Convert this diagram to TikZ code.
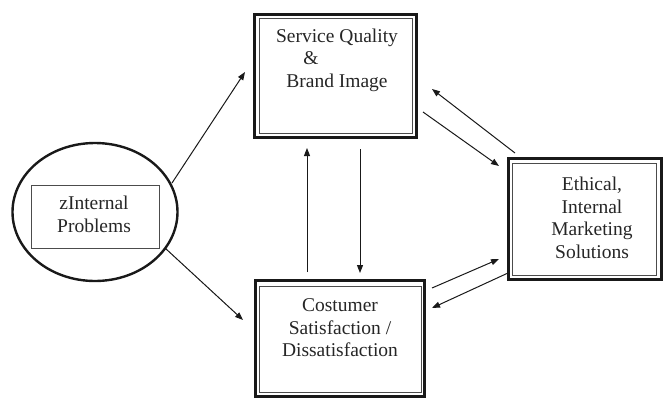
\documentclass[tikz,border=0pt]{standalone}
\usepackage{fontspec}
\setmainfont{Liberation Serif}
\usetikzlibrary{arrows.meta,calc,shapes.geometric}
\begin{document}
\begin{tikzpicture}[x=1pt,y=-1pt,
  outerbox/.style={draw=black!90,line width=3pt,inner sep=0pt,rectangle},
  innerline/.style={draw=black!70,line width=1pt},
  ell/.style={draw=black!90,line width=2.4pt,ellipse,inner sep=0pt},
  txt/.style={font=\fontsize{19.5}{22.5}\selectfont,align=center,inner sep=0pt,text=black!85},
  conn/.style={line width=1pt,draw=black!90,-{Triangle[length=8pt,width=6pt]}}
]
\useasboundingbox (0,0) rectangle (665,397);
% boxes
\node[outerbox,minimum width=162pt,minimum height=123pt] (sq) at (335,75.5) {};
\draw[innerline] ($(sq.north west)+(6.5,6)$) rectangle ($(sq.south east)+(-5.5,-5)$);
\node[outerbox,minimum width=153pt,minimum height=121pt] (em) at (584.5,218.5) {};
\draw[innerline] ($(em.north west)+(6,6.5)$) rectangle ($(em.south east)+(-6,-5)$);
\node[outerbox,minimum width=169pt,minimum height=116pt] (cs) at (339.5,338) {};
\draw[innerline] ($(cs.north west)+(6,7.5)$) rectangle ($(cs.south east)+(-4.5,-5)$);
\node[ell,minimum width=165pt,minimum height=138pt] (ie) at (95,212) {};
\node[draw=black!70,line width=1pt,minimum width=128pt,minimum height=63pt,inner sep=0pt] (ip) at (95,216.5) {};
% texts
\node[txt] (sqt) at (337,60) {Service Quality\\\&\hphantom{MMM}\\Brand Image};
\node[txt] (emt) at (592,218) {Ethical,\\Internal\\Marketing\\Solutions};
\node[txt] (cst) at (340,328) {Costumer\\Satisfaction /\\Dissatisfaction};
\node[txt] (ipt) at (94,214.5) {zInternal\\Problems};
% connector ends
\coordinate (a1s) at (172,183); \coordinate (a1e) at (245,72);
\coordinate (a2s) at (165,248); \coordinate (a2e) at (243,320);
\coordinate (a3s) at (307,272); \coordinate (a3e) at (307,148);
\coordinate (a4s) at (360,149); \coordinate (a4e) at (360,273);
\coordinate (a5s) at (423,112); \coordinate (a5e) at (499,166);
\coordinate (a6s) at (515,153); \coordinate (a6e) at (432,89);
\coordinate (a7s) at (432,288); \coordinate (a7e) at (499,259);
\coordinate (a8s) at (508,273); \coordinate (a8e) at (432,308);
\draw[conn] (a1s) -- (a1e);
\draw[conn] (a2s) -- (a2e);
\draw[conn] (a3s) -- (a3e);
\draw[conn] (a4s) -- (a4e);
\draw[conn] (a5s) -- (a5e);
\draw[conn] (a6s) -- (a6e);
\draw[conn] (a7s) -- (a7e);
\draw[conn] (a8s) -- (a8e);
\end{tikzpicture}
\end{document}
